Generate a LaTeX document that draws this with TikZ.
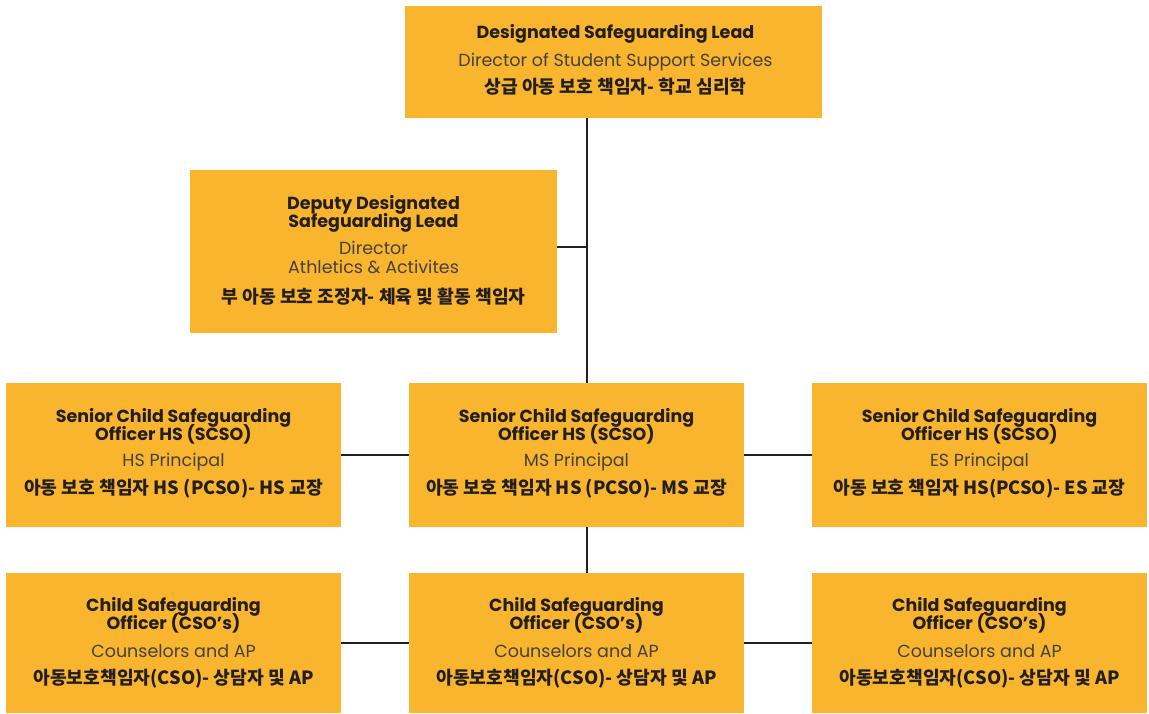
\documentclass[tikz,border=0pt]{standalone}
\usepackage{fontspec}
\setmainfont{Poppins}
\newfontfamily\kr{Noto Sans CJK KR}
\definecolor{boxfill}{HTML}{FAB52E}
\definecolor{ink}{HTML}{231F20}
\newcommand\tightlines{\lineskiplimit=-100pt\relax\lineskip=0pt\relax}
\begin{document}
\begin{tikzpicture}[x=1pt,y=-1pt,
  orgbox/.style={fill=boxfill,draw=none,inner sep=0pt,anchor=north west},
  head/.style={font=\fontsize{17.5}{18}\selectfont\bfseries\tightlines,text=ink,inner sep=0pt,align=center},
  sub/.style={font=\fontsize{17.5}{19}\selectfont\tightlines,text=ink!85,inner sep=0pt,align=center},
  kor/.style={font=\kr\fontsize{18.2}{18}\selectfont\bfseries,text=ink,inner sep=0pt},
  link/.style={draw=ink,line width=2pt}]
\useasboundingbox (0,0) rectangle (1149,714);
% boxes
\node[orgbox,minimum width=417pt,minimum height=112pt] (dsl) at (405,6) {};
\node[orgbox,minimum width=367pt,minimum height=163pt] (ddsl) at (190,170) {};
\node[orgbox,minimum width=335pt,minimum height=144pt] (hs) at (6,383) {};
\node[orgbox,minimum width=335pt,minimum height=144pt] (ms) at (409,383) {};
\node[orgbox,minimum width=335pt,minimum height=144pt] (es) at (812,383) {};
\node[orgbox,minimum width=335pt,minimum height=140pt] (c1) at (6,573) {};
\node[orgbox,minimum width=335pt,minimum height=140pt] (c2) at (409,573) {};
\node[orgbox,minimum width=335pt,minimum height=140pt] (c3) at (812,573) {};
% connectors
\coordinate (spine) at (587,247);
\draw[link] (spine |- dsl.south) -- (spine |- ms.north);
\draw[link] (ddsl.east |- spine) -- (spine);
\draw[link] (hs.east) -- (ms.west);
\draw[link] (ms.east) -- (es.west);
\draw[link] (spine |- ms.south) -- (spine |- c2.north);
\draw[link] (c1.east) -- (c2.west);
\draw[link] (c2.east) -- (c3.west);
% texts: top
\node[head] (t1a) at (615.5,34) {Designated Safeguarding Lead};
\node[sub] (t1b) at (615.5,62) {Director of Student Support Services};
\node[kor] (t1c) at (615.5,87) {상급 아동 보호 책임자- 학교 심리학};
% deputy
\node[head] (t2a) at (373.5,213.5) {Deputy Designated\\Safeguarding Lead};
\node[sub] (t2b) at (373.5,257.5) {Director\\Athletics \& Activites};
\node[kor] (t2c) at (373.5,297) {부 아동 보호 조정자- 체육 및 활동 책임자};
% row 3
\node[head] (t3a) at (173.5,426) {Senior Child Safeguarding\\Officer HS (SCSO)};
\node[sub] (t3b) at (173.5,462) {HS Principal};
\node[kor] (t3c) at (173.5,489) {아동 보호 책임자 HS (PCSO)- HS 교장};
\node[head] (t4a) at (576.5,426) {Senior Child Safeguarding\\Officer HS (SCSO)};
\node[sub] (t4b) at (576.5,462) {MS Principal};
\node[kor] (t4c) at (576.5,489) {아동 보호 책임자 HS (PCSO)- MS 교장};
\node[head] (t5a) at (979.5,426) {Senior Child Safeguarding\\Officer HS (SCSO)};
\node[sub] (t5b) at (979.5,462) {ES Principal};
\node[kor] (t5c) at (979.5,489) {아동 보호 책임자 HS(PCSO)- ES 교장};
% row 4
\node[head] (t6a) at (173.5,615.5) {Child Safeguarding\\Officer (CSO’s)};
\node[sub] (t6b) at (173.5,651) {Counselors and AP};
\node[kor] (t6c) at (173.5,679) {아동보호책임자(CSO)- 상담자 및 AP};
\node[head] (t7a) at (576.5,615.5) {Child Safeguarding\\Officer (CSO’s)};
\node[sub] (t7b) at (576.5,651) {Counselors and AP};
\node[kor] (t7c) at (576.5,679) {아동보호책임자(CSO)- 상담자 및 AP};
\node[head] (t8a) at (979.5,615.5) {Child Safeguarding\\Officer (CSO’s)};
\node[sub] (t8b) at (979.5,651) {Counselors and AP};
\node[kor] (t8c) at (979.5,679) {아동보호책임자(CSO)- 상담자 및 AP};
\end{tikzpicture}
\end{document}
